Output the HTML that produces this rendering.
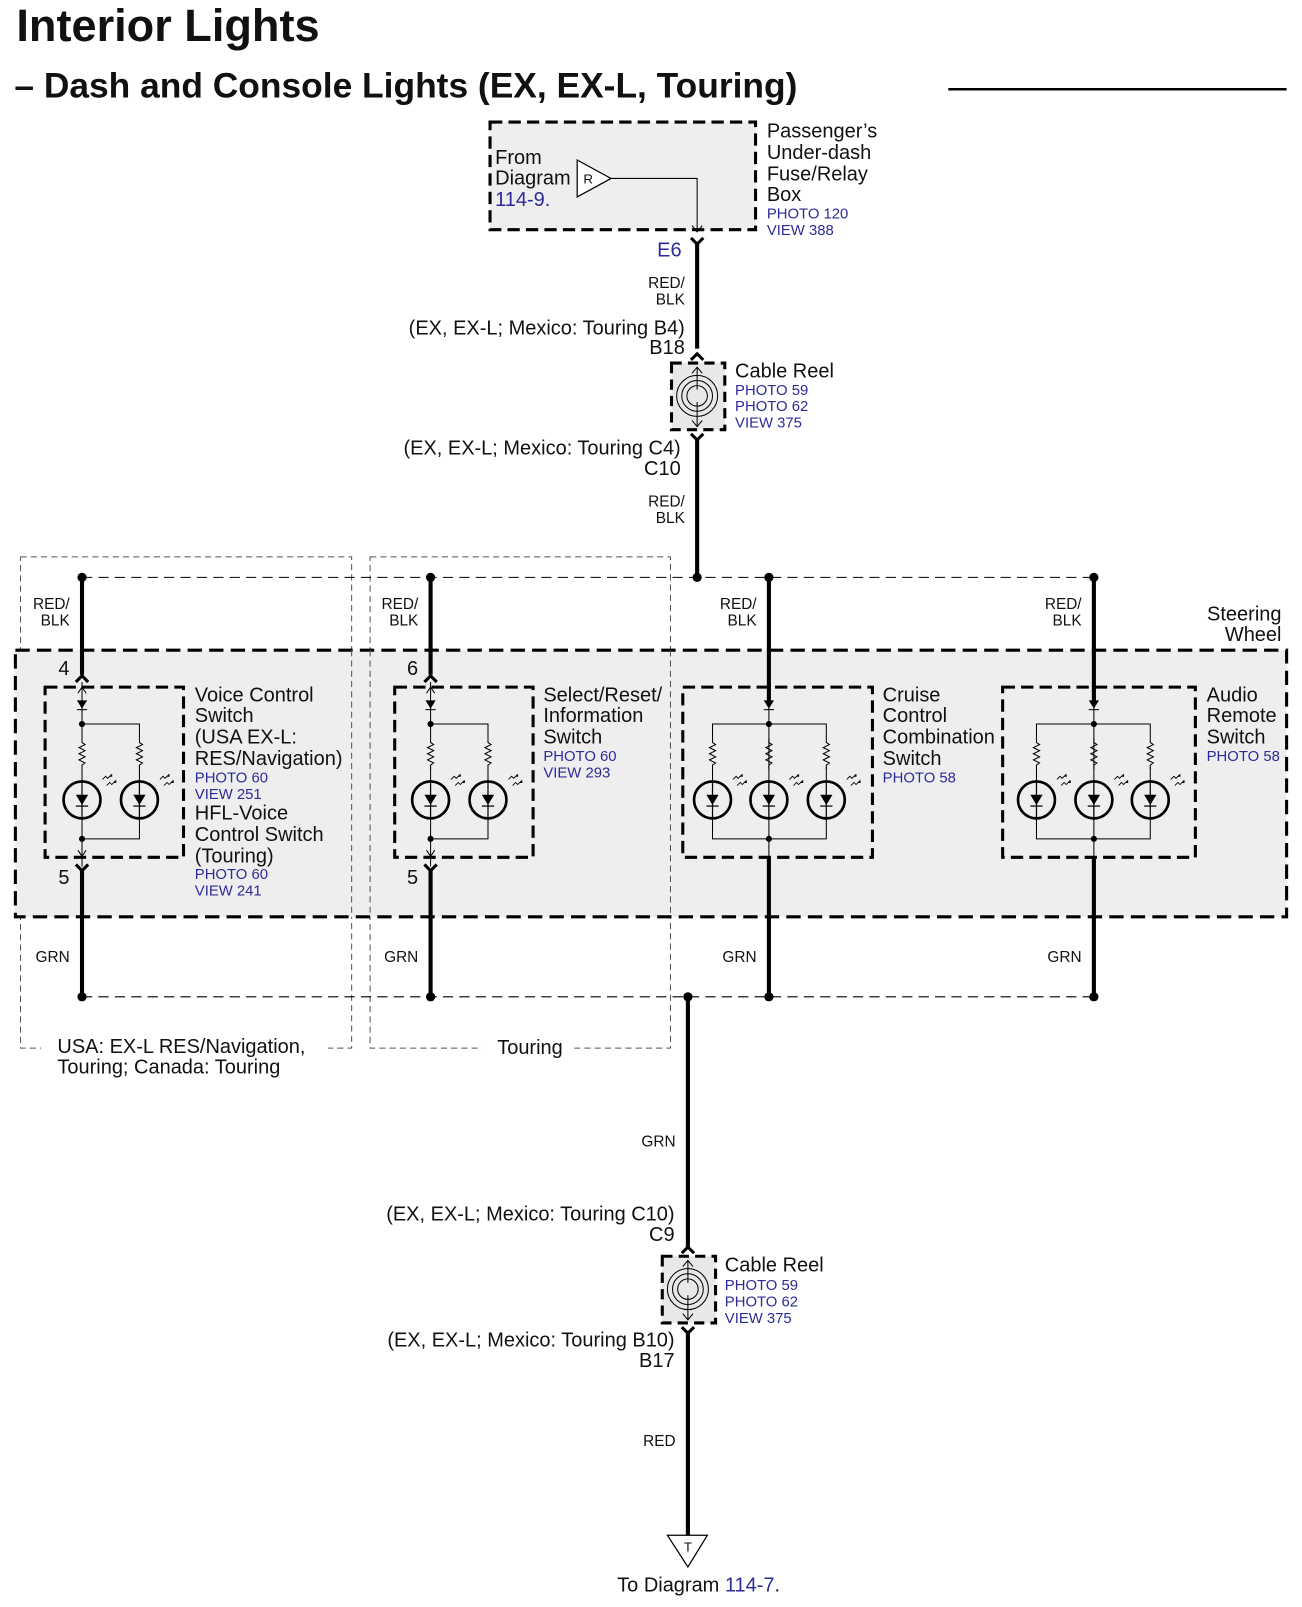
<!DOCTYPE html>
<html><head><meta charset="utf-8"><style>
html,body{margin:0;padding:0;background:#fff;}
svg{display:block;}
text{font-family:"Liberation Sans",Arial,sans-serif;fill:#111;}
.b{fill:#2b2b9a;}
</style></head><body>
<svg width="1302" height="1607" viewBox="0 0 1270 1567" preserveAspectRatio="none" xmlns="http://www.w3.org/2000/svg">
<defs>
<g id="led">
<line x1="0" y1="-18" x2="0" y2="18" stroke="#000" stroke-width="1.2"/>
<circle cx="0" cy="0" r="18" fill="none" stroke="#000" stroke-width="2.6"/>
<polygon points="-6,-5 6,-5 0,5" fill="#000"/>
<line x1="-6" y1="6" x2="6" y2="6" stroke="#000" stroke-width="1.2"/>
<path d="M20,-20 l3,-3 l2,2 l4,-4 M24,-14 l3,-3 l2,2 l4,-4" fill="none" stroke="#000" stroke-width="0.9"/>
<path d="M29,-25 l0,2 l-2,0 M33,-19 l0,2 l-2,0" fill="none" stroke="#000" stroke-width="0.9"/>
</g>
<g id="res">
<path d="M0,0 v4 l3,2 l-6,3 l6,3 l-6,3 l6,3 l-6,3 l6,3 l-3,2 v4" fill="none" stroke="#000" stroke-width="1"/>
</g>
<g id="reel">
<rect x="-25" y="0" width="52" height="65" fill="#e8e8e8" stroke="#000" stroke-width="3" stroke-dasharray="10,6"/>
<circle cx="0" cy="32" r="20" fill="none" stroke="#000" stroke-width="1"/>
<circle cx="0" cy="32" r="15" fill="none" stroke="#000" stroke-width="1"/>
<circle cx="0" cy="32" r="10" fill="none" stroke="#000" stroke-width="1"/>
<line x1="0" y1="4" x2="0" y2="26" stroke="#000" stroke-width="1"/>
<line x1="0" y1="38" x2="0" y2="62" stroke="#000" stroke-width="1"/>
<path d="M-5,10 L0,4 L5,10 M-5,56 L0,62 L5,56" fill="none" stroke="#000" stroke-width="1"/>
</g>
</defs>

<text x="16" y="40" font-size="44" font-weight="bold">Interior Lights</text>
<text x="14" y="95" font-size="34.5" font-weight="bold">– Dash and Console Lights (EX, EX-L, Touring)</text>
<line x1="925" y1="87" x2="1255" y2="87" stroke="#000" stroke-width="2.5"/>

<!-- fuse box -->
<rect x="478" y="119" width="259" height="105" fill="#eee" stroke="#000" stroke-width="3" stroke-dasharray="12,6"/>
<text x="483" y="160" font-size="19.5">From</text>
<text x="483" y="180" font-size="19.5">Diagram</text>
<text x="483" y="201" font-size="19.5" class="b">114-9.</text>
<polygon points="563,156 563,192 596,174" fill="#fff" stroke="#000" stroke-width="1.2"/>
<text x="569" y="179" font-size="13">R</text>
<polyline points="596,174 680,174 680,226" fill="none" stroke="#000" stroke-width="1"/>
<path d="M675,220 L680,226 L685,220" fill="none" stroke="#000" stroke-width="1"/>
<text x="748" y="134" font-size="19.5">Passenger’s</text>
<text x="748" y="155" font-size="19.5">Under-dash</text>
<text x="748" y="176" font-size="19.5">Fuse/Relay</text>
<text x="748" y="196" font-size="19.5">Box</text>
<text x="748" y="213" font-size="14.5" class="b">PHOTO 120</text>
<text x="748" y="229" font-size="14.5" class="b">VIEW 388</text>

<text x="641" y="250" font-size="19.5" class="b">E6</text>
<path d="M674,232 L680,238 L686,232" fill="none" stroke="#000" stroke-width="3"/>
<line x1="680" y1="237" x2="680" y2="340" stroke="#000" stroke-width="4"/>
<text x="668" y="281" font-size="15" text-anchor="end">RED/</text>
<text x="668" y="297" font-size="15" text-anchor="end">BLK</text>
<text x="668" y="326" font-size="19.5" text-anchor="end">(EX, EX-L; Mexico: Touring B4)</text>
<text x="668" y="345" font-size="19.5" text-anchor="end">B18</text>
<path d="M674,351 L680,345 L686,351" fill="none" stroke="#000" stroke-width="3"/>
<use href="#reel" x="680" y="354"/>
<text x="717" y="368" font-size="19.5">Cable Reel</text>
<text x="717" y="385" font-size="14.5" class="b">PHOTO 59</text>
<text x="717" y="401" font-size="14.5" class="b">PHOTO 62</text>
<text x="717" y="417" font-size="14.5" class="b">VIEW 375</text>
<path d="M674,423 L680,429 L686,423" fill="none" stroke="#000" stroke-width="3"/>
<text x="664" y="443" font-size="19.5" text-anchor="end">(EX, EX-L; Mexico: Touring C4)</text>
<text x="664" y="463" font-size="19.5" text-anchor="end">C10</text>
<line x1="680" y1="428" x2="680" y2="563" stroke="#000" stroke-width="4"/>
<text x="668" y="494" font-size="15" text-anchor="end">RED/</text>
<text x="668" y="510" font-size="15" text-anchor="end">BLK</text>

<!-- option boxes -->
<rect x="20" y="543" width="323" height="479" fill="none" stroke="#555" stroke-width="1" stroke-dasharray="6,4"/>
<rect x="361" y="543" width="293" height="479" fill="none" stroke="#555" stroke-width="1" stroke-dasharray="6,4"/>

<!-- steering wheel -->
<rect x="15" y="634" width="1240" height="260" fill="#eee" stroke="#000" stroke-width="3" stroke-dasharray="14,7"/>
<line x1="343" y1="634" x2="343" y2="894" stroke="#555" stroke-width="1" stroke-dasharray="6,4"/>
<line x1="361" y1="634" x2="361" y2="894" stroke="#555" stroke-width="1" stroke-dasharray="6,4"/>
<line x1="654" y1="634" x2="654" y2="894" stroke="#555" stroke-width="1" stroke-dasharray="6,4"/>
<text x="1250" y="605" font-size="19.5" text-anchor="end">Steering</text>
<text x="1250" y="625" font-size="19.5" text-anchor="end">Wheel</text>

<line x1="80" y1="563" x2="1067" y2="563" stroke="#000" stroke-width="1" stroke-dasharray="10,6"/>
<line x1="80" y1="972" x2="1067" y2="972" stroke="#000" stroke-width="1" stroke-dasharray="10,6"/>
<g fill="#000">
<circle cx="80" cy="563" r="4.5"/><circle cx="420" cy="563" r="4.5"/><circle cx="680" cy="563" r="4.5"/><circle cx="750" cy="563" r="4.5"/><circle cx="1067" cy="563" r="4.5"/>
<circle cx="80" cy="972" r="4.5"/><circle cx="420" cy="972" r="4.5"/><circle cx="671" cy="972" r="4.5"/><circle cx="750" cy="972" r="4.5"/><circle cx="1067" cy="972" r="4.5"/>
</g>

<!-- wires -->
<g stroke="#000" stroke-width="4">
<line x1="80" y1="563" x2="80" y2="658"/><line x1="80" y1="848" x2="80" y2="972"/>
<line x1="420" y1="563" x2="420" y2="658"/><line x1="420" y1="848" x2="420" y2="972"/>
<line x1="750" y1="563" x2="750" y2="684"/><line x1="750" y1="836" x2="750" y2="972"/>
<line x1="1067" y1="563" x2="1067" y2="684"/><line x1="1067" y1="836" x2="1067" y2="972"/>
</g>
<g fill="none" stroke="#000" stroke-width="3">
<path d="M74,665 L80,659 L86,665"/><path d="M74,843 L80,849 L86,843"/>
<path d="M414,665 L420,659 L426,665"/><path d="M414,843 L420,849 L426,843"/>
</g>
<g font-size="15" text-anchor="end">
<text x="68" y="594">RED/</text><text x="68" y="610">BLK</text>
<text x="408" y="594">RED/</text><text x="408" y="610">BLK</text>
<text x="738" y="594">RED/</text><text x="738" y="610">BLK</text>
<text x="1055" y="594">RED/</text><text x="1055" y="610">BLK</text>
<text x="68" y="938">GRN</text><text x="408" y="938">GRN</text><text x="738" y="938">GRN</text><text x="1055" y="938">GRN</text>
</g>
<text x="57" y="658" font-size="19.5">4</text>
<text x="57" y="862" font-size="19.5">5</text>
<text x="397" y="658" font-size="19.5">6</text>
<text x="397" y="862" font-size="19.5">5</text>

<!-- sub boxes -->
<g fill="none" stroke="#000" stroke-width="3" stroke-dasharray="12,6">
<rect x="44" y="670" width="135" height="166"/>
<rect x="385" y="670" width="135" height="166"/>
<rect x="666" y="670" width="185" height="166"/>
<rect x="978" y="670" width="188" height="166"/>
</g>

<!-- circuits -->
<g stroke="#000" stroke-width="1" fill="none">
<line x1="80" y1="665" x2="80" y2="706"/><line x1="80" y1="818" x2="80" y2="845"/>
<polyline points="80,706 136,706 136,720"/><polyline points="80,818 136,818 136,798"/>
<line x1="80" y1="706" x2="80" y2="720"/><line x1="80" y1="748" x2="80" y2="762"/><line x1="80" y1="798" x2="80" y2="818"/>
<line x1="136" y1="748" x2="136" y2="762"/>
<line x1="420" y1="665" x2="420" y2="706"/><line x1="420" y1="818" x2="420" y2="845"/>
<polyline points="420,706 476,706 476,720"/><polyline points="420,818 476,818 476,798"/>
<line x1="420" y1="706" x2="420" y2="720"/><line x1="420" y1="748" x2="420" y2="762"/><line x1="420" y1="798" x2="420" y2="818"/>
<line x1="476" y1="748" x2="476" y2="762"/>
<line x1="750" y1="684" x2="750" y2="836"/>
<polyline points="695,720 695,706 806,706 806,720"/><polyline points="695,798 695,818 806,818 806,798"/>
<line x1="695" y1="748" x2="695" y2="762"/><line x1="806" y1="748" x2="806" y2="762"/>
<line x1="1067" y1="684" x2="1067" y2="836"/>
<polyline points="1011,720 1011,706 1122,706 1122,720"/><polyline points="1011,798 1011,818 1122,818 1122,798"/>
<line x1="1011" y1="748" x2="1011" y2="762"/><line x1="1122" y1="748" x2="1122" y2="762"/>
<path d="M76,829 L80,835 L84,829 M76,676 L80,670 L84,676 M416,829 L420,835 L424,829 M416,676 L420,670 L424,676"/>
</g>
<g fill="#000">
<polygon points="75,683 85,683 80,691"/><line x1="75" y1="692" x2="85" y2="692" stroke="#000"/>
<polygon points="415,683 425,683 420,691"/><line x1="415" y1="692" x2="425" y2="692" stroke="#000"/>
<polygon points="745,683 755,683 750,691"/><line x1="745" y1="692" x2="755" y2="692" stroke="#000"/>
<polygon points="1062,683 1072,683 1067,691"/><line x1="1062" y1="692" x2="1072" y2="692" stroke="#000"/>
<circle cx="80" cy="706" r="3"/><circle cx="80" cy="818" r="3"/>
<circle cx="420" cy="706" r="3"/><circle cx="420" cy="818" r="3"/>
<circle cx="750" cy="706" r="3"/><circle cx="750" cy="818" r="3"/>
<circle cx="1067" cy="706" r="3"/><circle cx="1067" cy="818" r="3"/>
</g>
<use href="#res" x="80" y="720"/><use href="#res" x="136" y="720"/>
<use href="#res" x="420" y="720"/><use href="#res" x="476" y="720"/>
<use href="#res" x="695" y="720"/><use href="#res" x="750" y="720"/><use href="#res" x="806" y="720"/>
<use href="#res" x="1011" y="720"/><use href="#res" x="1067" y="720"/><use href="#res" x="1122" y="720"/>
<use href="#led" x="80" y="780"/><use href="#led" x="136" y="780"/>
<use href="#led" x="420" y="780"/><use href="#led" x="476" y="780"/>
<use href="#led" x="695" y="780"/><use href="#led" x="750" y="780"/><use href="#led" x="806" y="780"/>
<use href="#led" x="1011" y="780"/><use href="#led" x="1067" y="780"/><use href="#led" x="1122" y="780"/>

<!-- labels -->
<g font-size="19.5">
<text x="190" y="684">Voice Control</text><text x="190" y="704">Switch</text>
<text x="190" y="725">(USA EX-L:</text><text x="190" y="746">RES/Navigation)</text>
<text x="190" y="799">HFL-Voice</text><text x="190" y="820">Control Switch</text><text x="190" y="841">(Touring)</text>
<text x="530" y="684">Select/Reset/</text><text x="530" y="704">Information</text><text x="530" y="725">Switch</text>
<text x="861" y="684">Cruise</text><text x="861" y="704">Control</text><text x="861" y="725">Combination</text><text x="861" y="746">Switch</text>
<text x="1177" y="684">Audio</text><text x="1177" y="704">Remote</text><text x="1177" y="725">Switch</text>
</g>
<g font-size="14.5">
<text x="190" y="763" class="b">PHOTO 60</text><text x="190" y="779" class="b">VIEW 251</text>
<text x="190" y="857" class="b">PHOTO 60</text><text x="190" y="873" class="b">VIEW 241</text>
<text x="530" y="742" class="b">PHOTO 60</text><text x="530" y="758" class="b">VIEW 293</text>
<text x="861" y="763" class="b">PHOTO 58</text>
<text x="1177" y="742" class="b">PHOTO 58</text>
</g>
<rect x="40" y="1012" width="280" height="40" fill="#fff"/>
<rect x="470" y="1012" width="90" height="22" fill="#fff"/>
<text x="56" y="1027" font-size="19.5">USA: EX-L RES/Navigation,</text>
<text x="56" y="1047" font-size="19.5">Touring; Canada: Touring</text>
<text x="485" y="1028" font-size="19.5">Touring</text>

<!-- bottom -->
<line x1="671" y1="972" x2="671" y2="1216" stroke="#000" stroke-width="4"/>
<text x="659" y="1118" font-size="15" text-anchor="end">GRN</text>
<text x="658" y="1190" font-size="19.5" text-anchor="end">(EX, EX-L; Mexico: Touring C10)</text>
<text x="658" y="1210" font-size="19.5" text-anchor="end">C9</text>
<path d="M665,1222 L671,1216 L677,1222" fill="none" stroke="#000" stroke-width="3"/>
<use href="#reel" x="671" y="1225"/>
<text x="707" y="1240" font-size="19.5">Cable Reel</text>
<text x="707" y="1258" font-size="14.5" class="b">PHOTO 59</text>
<text x="707" y="1274" font-size="14.5" class="b">PHOTO 62</text>
<text x="707" y="1290" font-size="14.5" class="b">VIEW 375</text>
<path d="M665,1294 L671,1300 L677,1294" fill="none" stroke="#000" stroke-width="3"/>
<text x="658" y="1313" font-size="19.5" text-anchor="end">(EX, EX-L; Mexico: Touring B10)</text>
<text x="658" y="1333" font-size="19.5" text-anchor="end">B17</text>
<line x1="671" y1="1299" x2="671" y2="1497" stroke="#000" stroke-width="4"/>
<text x="659" y="1410" font-size="15" text-anchor="end">RED</text>
<polygon points="651,1497 690,1497 671,1528" fill="#fff" stroke="#000" stroke-width="1.2"/>
<text x="671" y="1513" font-size="13" text-anchor="middle">T</text>
<text x="602" y="1552" font-size="19.5">To Diagram <tspan class="b">114-7</tspan>.</text>
</svg>
</body></html>
